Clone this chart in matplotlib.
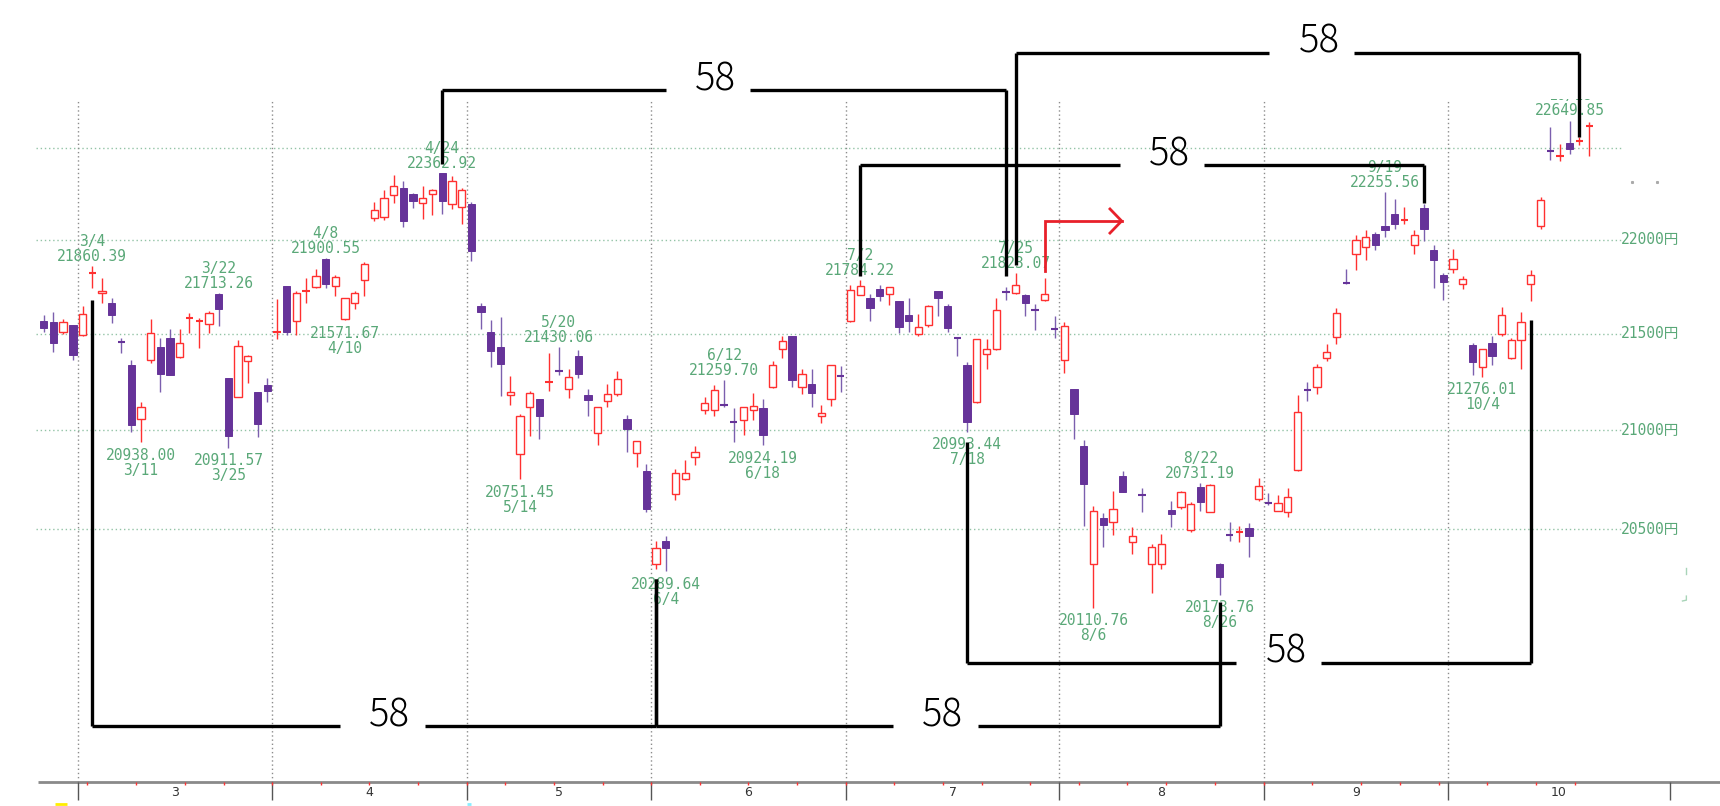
"""Nikkei daily candles (Feb-Oct 2019) with 58-day cycle brackets."""
import matplotlib
matplotlib.use("Agg")
import matplotlib.pyplot as plt
from matplotlib.patches import Rectangle

# --- data: one candle per trading day, index 0 = 2/25 -------------------------
opens = [
    21567, 21564, 21510, 21545, 21492, 21817, 21716, 21665, 21460, 21340,
    21060, 21363, 21429, 21480, 21377, 21583, 21564, 21550, 21711, 21270,
    21174, 21357, 21195, 21233, 21508, 21751, 21567, 21726, 21747, 21898,
    21754, 21579, 21663, 21786, 22118, 22120, 22244, 22281, 22249, 22196,
    22247, 22360, 22191, 22178, 22191, 21645, 21510, 21432, 21181, 20878,
    21122, 21159, 21250, 21308, 21214, 21383, 21181, 20984, 21151, 21185,
    21060, 20883, 20793, 20324, 20440, 20674, 20750, 20866, 21103, 21103,
    21134, 21044, 21054, 21103, 21115, 21224, 21420, 21488, 21224, 21239,
    21071, 21163, 21280, 21566, 21703, 21689, 21738, 21710, 21671, 21601,
    21502, 21549, 21724, 21648, 21480, 21339, 21147, 21397, 21423, 21722,
    21715, 21706, 21630, 21680, 21528, 21365, 21212, 20922, 20327, 20554,
    20534, 20767, 20435, 20675, 20325, 20325, 20597, 20610, 20497, 20712,
    20585, 20327, 20471, 20482, 20503, 20650, 20634, 20588, 20585, 20800,
    21209, 21221, 21372, 21482, 21772, 21921, 21960, 22031, 22075, 22139,
    22105, 21970, 22169, 21944, 21809, 21841, 21762, 21443, 21328, 21455,
    21499, 21372, 21466, 21765, 22075, 22481, 22452, 22527, 22537, 22620,
]
highs = [
    21597, 21614, 21581, 21548, 21646, 21860.39, 21798, 21691, 21476, 21366,
    21148, 21576, 21480, 21524, 21524, 21611, 21585, 21620, 21713.26, 21272,
    21468, 21392, 21197, 21270, 21684, 21754, 21725, 21798, 21843, 21900.55,
    21812, 21692, 21725, 21882, 22205, 22267, 22349, 22316, 22254, 22290,
    22276, 22362.92, 22343, 22279, 22201, 21661, 21574, 21590, 21282, 21083,
    21202, 21160, 21401, 21430.06, 21318, 21414, 21214, 21122, 21239, 21304,
    21077, 20946, 20830, 20440, 20464, 20805, 20849, 20921, 21171, 21236,
    21259.70, 21117, 21122, 21190, 21159, 21360, 21488, 21490, 21318, 21316,
    21128, 21338, 21330, 21759, 21784.22, 21711, 21759, 21746, 21673, 21689,
    21605, 21650, 21726, 21659, 21484, 21351, 21475, 21474, 21689, 21746,
    21823.07, 21711, 21659, 21794, 21593, 21561, 21214, 20950, 20616, 20580,
    20690, 20792, 20512, 20704, 20423, 20475, 20641, 20690, 20636, 20731.19,
    20724, 20330, 20537, 20517, 20530, 20758, 20679, 20670, 20704, 21180,
    21248, 21345, 21448, 21634, 21841, 22027, 22054, 22041, 22255.56, 22218,
    22178, 22050, 22195, 21970, 21823, 21953, 21806, 21451, 21422, 21487,
    21641, 21478, 21616, 21836, 22231, 22612, 22519, 22649.85, 22558, 22640,
]
lows = [
    21510, 21406, 21501, 21363, 21488, 21742, 21663, 21555, 21401, 20990,
    20938.00, 21349, 21197, 21286, 21375, 21506, 21427, 21506, 21541, 20911.57,
    21170, 21244, 20968, 21148, 21471, 21492, 21492, 21663, 21742, 21742,
    21702, 21571.67, 21632, 21702, 22100, 22108, 22196, 22067, 22170, 22113,
    22131, 22138, 22166, 22085, 21887, 21525, 21325, 21176, 21130, 20751.45,
    20972, 20958, 21202, 21287, 21164, 21272, 21074, 20926, 21122, 21176,
    20890, 20815, 20585, 20299, 20289.64, 20648, 20747, 20822, 21082, 21071,
    21122, 20938, 20977, 21054, 20924.19, 21219, 21376, 21224, 21185, 21120,
    21040, 21125, 21197, 21561, 21703, 21566, 21675, 21650, 21505, 21509,
    21488, 21537, 21593, 21510, 21383, 20993.44, 21142, 21316, 21418, 21680,
    21711, 21593, 21523, 21671, 21479, 21295, 20958, 20517, 20110.76, 20412,
    20469, 20687, 20376, 20585, 20182, 20299, 20508, 20599, 20483, 20590,
    20585, 20173.76, 20440, 20435, 20361, 20639, 20622, 20588, 20560, 20790,
    21150, 21189, 21358, 21448, 21761, 21836, 21894, 21947, 22013, 22059,
    22084, 21921, 21995, 21744, 21678, 21820, 21735, 21283, 21276.01, 21336,
    21490, 21367, 21319, 21673, 22059, 22434, 22429, 22466, 22514, 22457,
]
closes = [
    21529, 21454, 21562, 21389, 21607, 21822, 21728, 21600, 21458, 21025,
    21122, 21506, 21293, 21286, 21454, 21585, 21567, 21611, 21632, 20973,
    21436, 21384, 21031, 21205, 21511, 21510, 21716, 21728, 21808, 21765,
    21803, 21690, 21716, 21868, 22162, 22228, 22288, 22102, 22210, 22228,
    22270, 22208, 22316, 22270, 21940, 21617, 21410, 21343, 21197, 21074,
    21194, 21071, 21253, 21305, 21275, 21291, 21156, 21122, 21188, 21265,
    21006, 20946, 20602, 20406, 20406, 20781, 20781, 20890, 21139, 21207,
    21131, 21042, 21122, 21125, 20977, 21338, 21462, 21261, 21290, 21193,
    21087, 21338, 21277, 21732, 21753, 21636, 21701, 21746, 21535, 21566,
    21535, 21648, 21689, 21531, 21476, 21042, 21474, 21421, 21624, 21718,
    21759, 21663, 21626, 21710, 21524, 21540, 21082, 20726, 20590, 20522,
    20599, 20687, 20463, 20671, 20412, 20423, 20573, 20684, 20627, 20636,
    20721, 20262, 20469, 20485, 20466, 20716, 20631, 20633, 20662, 21095,
    21206, 21328, 21404, 21611, 21770, 22001, 22013, 21970, 22054, 22085,
    22107, 22027, 22059, 21894, 21774, 21898, 21788, 21351, 21420, 21384,
    21602, 21466, 21563, 21809, 22217, 22479, 22456, 22493, 22541, 22624,
]

# highs / lows that carry a "date + price" label (candle index, date text)
high_marks = [(5, "3/4"), (18, "3/22"), (29, "4/8"), (41, "4/24"), (53, "5/20"),
              (70, "6/12"), (84, "7/2"), (100, "7/25"), (119, "8/22"),
              (138, "9/19"), (157, "10/18")]
low_marks = [(10, "3/11"), (19, "3/25"), (31, "4/10"), (49, "5/14"), (64, "6/4"),
             (74, "6/18"), (95, "7/18"), (108, "8/6"), (121, "8/26"), (148, "10/4")]

# 58-day cycles: start idx, end idx, bar price, start tip, end tip, label idx
cycles = [
    (5, 63, 19537, 21679, 20250, 35.6),
    (63, 121, 19537, 20250, 20139, 92.5),
    (41, 99, 22819, 22411, 21808, 69.1),
    (84, 142, 22405, 21808, 22197, 115.8),
    (100, 158, 23028, 21865, 22560, 131.2),
    (95, 153, 19842, 20942, 21573, 127.8),
]
cycle_text = "58"

# red "signal" arrow (candle idx, price)
signal_x = [103, 103, 110.9]
signal_y = [21834, 22101, 22101]

grid_prices = [22500, 22000, 21500, 21000, 20500]
price_labels = [22000, 21500, 21000, 20500]
month_edges = [3.5, 23.5, 43.5, 62.5, 82.5, 104.5, 125.5, 144.5, 167.3]
month_names = ["3", "4", "5", "6", "7", "8", "9", "10"]
week_starts = [5, 10, 15, 19, 24, 29, 34, 39, 44, 48, 53, 58, 63, 68, 73, 78, 83,
               88, 93, 97, 102, 107, 112, 116, 121, 126, 131, 136, 140, 144,
               149, 154, 158]

# --- style -------------------------------------------------------------------
RED = "#ff3030"
PURPLE = "#663399"
PURPLE_WICK = "#7b5fae"
GREEN = "#5aa878"
MONO = ["DejaVu Sans Mono", "Noto Sans CJK JP"]
BODY_W = 0.75

W, H = 1720, 806
AX_TOP, AX_BOT = 99, 782          # pixel rows of the price panel

fig = plt.figure(figsize=(W / 100, H / 100), dpi=100)
ax = fig.add_axes([0, 1 - AX_BOT / H, 1, (AX_BOT - AX_TOP) / H])
ax.set_yscale("log")              # price axis is logarithmic
ax.set_xlim(-4.496, 172.46)       # 9.72 px per trading day
ax.set_ylim(19272.2, 22769.1)
ax.axis("off")

axb = fig.add_axes([0, 0, 1, (H - AX_BOT) / H])
axb.set_xlim(ax.get_xlim())
axb.set_ylim(H - AX_BOT, 0)
axb.axis("off")

# grid
ax.hlines(grid_prices, -0.8, 162.4, colors="#93c3a6", linestyles=(0, (1, 2)), lw=1)
for e in month_edges[:-1]:
    ax.axvline(e, color="#8c8c8c", ls=(0, (1, 2)), lw=1)
for p in price_labels:
    ax.text(162.3, p, f"{p}円", ha="left", va="center", color=GREEN,
            fontsize=10.5, family=MONO)

# candles
for i, (o, h, l, c) in enumerate(zip(opens, highs, lows, closes)):
    up = c >= o
    ax.vlines(i, l, h, colors=RED if up else PURPLE_WICK, lw=1, zorder=2)
    if abs(c - o) <= 5:
        ax.hlines((o + c) / 2, i - BODY_W / 2, i + BODY_W / 2,
                  colors=RED if up else PURPLE, lw=1.5, zorder=3)
    elif up:
        ax.add_patch(Rectangle((i - BODY_W / 2, o), BODY_W, c - o, facecolor="white",
                               edgecolor=RED, lw=1, zorder=3))
    else:
        ax.add_patch(Rectangle((i - BODY_W / 2, c), BODY_W, o - c, facecolor=PURPLE,
                               edgecolor=PURPLE, lw=0.7, zorder=3))

# high / low labels
for i, d in high_marks:
    ax.annotate(f"{d}\n{highs[i]:.2f}", (i, highs[i]), xytext=(0, 1.5),
                textcoords="offset points", ha="center", va="bottom", color=GREEN,
                fontsize=10.5, family=MONO, linespacing=1.0, clip_on=True, zorder=4)
for i, d in low_marks:
    ax.annotate(f"{lows[i]:.2f}\n{d}", (i, lows[i]), xytext=(0, -4),
                textcoords="offset points", ha="center", va="top", color=GREEN,
                fontsize=10.5, family=MONO, linespacing=1.0, clip_on=True, zorder=4)

# 58-day brackets
for a, b, lvl, ya, yb, lx in cycles:
    kw = dict(color="black", lw=2.4, clip_on=False, zorder=5, solid_capstyle="butt")
    ax.plot([a, a], [ya, lvl], **kw)
    ax.plot([b, b], [yb, lvl], **kw)
    ax.plot([a, lx - 5.1], [lvl, lvl], **kw)
    ax.plot([lx + 3.6, b], [lvl, lvl], **kw)
    ax.text(lx, lvl, cycle_text, ha="center", va="baseline", fontsize=27.5,
            family="Noto Sans CJK JP", fontweight="light", color="black",
            clip_on=False, zorder=5)

# red arrow
ax.plot(signal_x, signal_y, color="#e8202a", lw=2, zorder=5, solid_joinstyle="miter")
ax.plot([signal_x[-1] - 1.2, signal_x[-1], signal_x[-1] - 1.2],
        [signal_y[-1] + 65, signal_y[-1], signal_y[-1] - 65],
        color="#e8202a", lw=2, zorder=5)

# stray marks at the right edge
ax.plot([163.4, 166.0], [22314, 22314], "s", ms=1.2, color="#aaaaaa")
ax.plot([169.0, 169.0], [20307, 20274], color="#a8d4b8", lw=1)
ax.plot([168.6, 169.0, 169.0], [20143, 20147, 20167], color="#a8d4b8", lw=1)

# bottom axis: line, month ticks, week ticks, month numbers
axb.hlines(0, -0.55, 172.5, colors="#8a8a8a", lw=2, clip_on=False)
axb.vlines(month_edges, 0, 18, colors="#555555", lw=1)
axb.vlines([w - 0.5 for w in week_starts], 0, 3, colors=RED, lw=1)
for j, name in enumerate(month_names):
    axb.text((month_edges[j] + month_edges[j + 1]) / 2, 10.7, name, ha="center",
             va="center", fontsize=9, color="#333333")
axb.hlines(21.5, 1.2, 2.4, colors="#ffee00", lw=2)
axb.hlines(21.5, 43.5, 44.0, colors="#88eeff", lw=2)

fig.savefig("out.png", dpi=100)
